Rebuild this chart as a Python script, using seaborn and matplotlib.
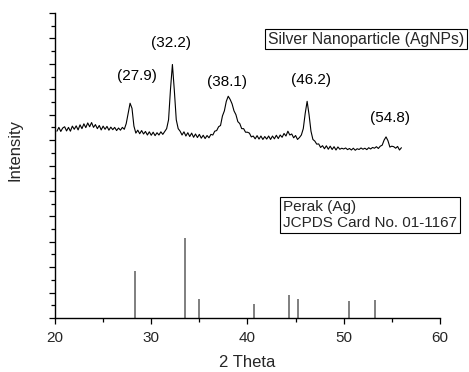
import numpy as np
import matplotlib
matplotlib.use("Agg")
import matplotlib.pyplot as plt
from matplotlib.ticker import MultipleLocator
import seaborn as sns

# --- data ------------------------------------------------------------------
# measured XRD scan of the silver nanoparticles (2 theta, intensity a.u.)
scan_2theta = [
    20.2, 20.4, 20.6, 20.8, 21.0, 21.2, 21.4, 21.6, 21.8, 22.0,
    22.2, 22.4, 22.6, 22.8, 23.0, 23.2, 23.4, 23.6, 23.8, 24.0,
    24.2, 24.4, 24.6, 24.8, 25.0, 25.2, 25.4, 25.6, 25.8, 26.0,
    26.2, 26.4, 26.6, 26.8, 27.0, 27.2, 27.4, 27.6, 27.8, 28.0,
    28.2, 28.4, 28.6, 28.8, 29.0, 29.2, 29.4, 29.6, 29.8, 30.0,
    30.2, 30.4, 30.6, 30.8, 31.0, 31.2, 31.4, 31.6, 31.8, 32.0,
    32.2, 32.4, 32.6, 32.8, 33.0, 33.2, 33.4, 33.6, 33.8, 34.0,
    34.2, 34.4, 34.6, 34.8, 35.0, 35.2, 35.4, 35.6, 35.8, 36.0,
    36.2, 36.4, 36.6, 36.8, 37.0, 37.2, 37.4, 37.6, 37.8, 38.0,
    38.2, 38.4, 38.6, 38.8, 39.0, 39.2, 39.4, 39.6, 39.8, 40.0,
    40.2, 40.4, 40.6, 40.8, 41.0, 41.2, 41.4, 41.6, 41.8, 42.0,
    42.2, 42.4, 42.6, 42.8, 43.0, 43.2, 43.4, 43.6, 43.8, 44.0,
    44.2, 44.4, 44.6, 44.8, 45.0, 45.2, 45.4, 45.6, 45.8, 46.0,
    46.2, 46.4, 46.6, 46.8, 47.0, 47.2, 47.4, 47.6, 47.8, 48.0,
    48.2, 48.4, 48.6, 48.8, 49.0, 49.2, 49.4, 49.6, 49.8, 50.0,
    50.2, 50.4, 50.6, 50.8, 51.0, 51.2, 51.4, 51.6, 51.8, 52.0,
    52.2, 52.4, 52.6, 52.8, 53.0, 53.2, 53.4, 53.6, 53.8, 54.0,
    54.2, 54.4, 54.6, 54.8, 55.0, 55.2, 55.4, 55.6, 55.8, 56.0,
]
scan_intensity = [
    1470, 1500, 1468, 1495, 1505, 1472, 1500, 1470, 1510, 1485,
    1512, 1480, 1520, 1490, 1528, 1498, 1535, 1505, 1538, 1500,
    1522, 1490, 1515, 1480, 1510, 1485, 1508, 1478, 1502, 1482,
    1500, 1475, 1495, 1478, 1500, 1485, 1530, 1610, 1690, 1650,
    1510, 1455, 1478, 1450, 1475, 1448, 1468, 1440, 1465, 1438,
    1462, 1435, 1458, 1440, 1465, 1445, 1468, 1490, 1560, 1800,
    1995, 1790, 1560, 1490, 1470, 1440, 1465, 1432, 1458, 1428,
    1455, 1422, 1448, 1420, 1445, 1415, 1438, 1412, 1436, 1418,
    1445, 1440, 1470, 1475, 1505, 1515, 1590, 1630, 1705, 1745,
    1720, 1685, 1630, 1600, 1545, 1530, 1490, 1490, 1462, 1462,
    1455, 1425, 1432, 1410, 1435, 1408, 1432, 1405, 1428, 1408,
    1432, 1405, 1432, 1410, 1438, 1412, 1440, 1422, 1452, 1432,
    1470, 1440, 1448, 1418, 1436, 1405, 1420, 1440, 1490, 1610,
    1705, 1600, 1470, 1405, 1392, 1368, 1370, 1342, 1356, 1332,
    1355, 1328, 1352, 1326, 1348, 1322, 1346, 1328, 1336, 1330,
    1338, 1325, 1334, 1322, 1336, 1320, 1332, 1326, 1338, 1328,
    1336, 1325, 1340, 1330, 1342, 1336, 1348, 1334, 1352, 1360,
    1400, 1425, 1395, 1345, 1352, 1348, 1336, 1350, 1322, 1340,
]

# reference card lines (JCPDS 01-1167)
card_2theta = [28.3, 33.5, 35.0, 40.7, 44.3, 45.3, 50.6, 53.3]
card_intensity = [370, 630, 150, 110, 181, 152, 131, 144]

# peak labels
peak_labels = ["(27.9)", "(32.2)", "(38.1)", "(46.2)", "(54.8)"]
peak_label_x = [28.5, 32.1, 37.85, 46.6, 54.8]
peak_label_y = [1905, 2164, 1860, 1873, 1574]

sample_label = "Silver Nanoparticle (AgNPs)"
card_label = "Perak (Ag)\nJCPDS Card No. 01-1167"

# --- style -------------------------------------------------------------------
sns.set_theme(style="ticks")
plt.rcParams["font.family"] = ["Liberation Sans", "DejaVu Sans"]

fig = plt.figure(figsize=(4.69, 3.72), dpi=100)
ax = fig.add_axes([0.1173, 0.1452, 0.8207, 0.8198])

# measured pattern
sns.lineplot(x=scan_2theta, y=scan_intensity, color="black", linewidth=0.8,
             sort=False, estimator=None, ax=ax)

# stick pattern
ax.vlines(card_2theta, 0, card_intensity, color="#5c5c5c", linewidth=1.1)

for lbl, xx, yy in zip(peak_labels, peak_label_x, peak_label_y):
    ax.text(xx, yy, lbl, ha="center", va="center", fontsize=11, color="black")

box = dict(boxstyle="square,pad=0.18", facecolor="white", edgecolor="black", linewidth=0.8)
fig.text(0.572, 0.895, sample_label, ha="left", va="center", fontsize=11.3, bbox=box)
fig.text(0.603, 0.422, card_label, ha="left", va="center", fontsize=11,
         linespacing=1.15, bbox=box)

# axes
ax.set_xlim(20, 60)
ax.set_ylim(0, 2400)
ax.xaxis.set_major_locator(MultipleLocator(10))
ax.xaxis.set_minor_locator(MultipleLocator(5))
ax.yaxis.set_major_locator(MultipleLocator(200))
ax.yaxis.set_minor_locator(MultipleLocator(100))
ax.tick_params(axis="both", which="major", length=4.5, width=0.9, color="black",
               labelsize=11, pad=5)
ax.tick_params(axis="both", which="minor", length=2.6, width=0.9, color="black")
ax.tick_params(axis="y", which="both", labelleft=False)

sns.despine(ax=ax)
for side in ["left", "bottom"]:
    ax.spines[side].set_color("black")
    ax.spines[side].set_linewidth(1.0)

ax.set_xlabel("2 Theta", fontsize=12)
ax.set_ylabel("Intensity", fontsize=12)
ax.xaxis.set_label_coords(0.5, -0.122)
ax.yaxis.set_label_coords(-0.085, 0.55)
ax.set_facecolor("white")
fig.patch.set_facecolor("white")

fig.savefig("out.png", dpi=100)
